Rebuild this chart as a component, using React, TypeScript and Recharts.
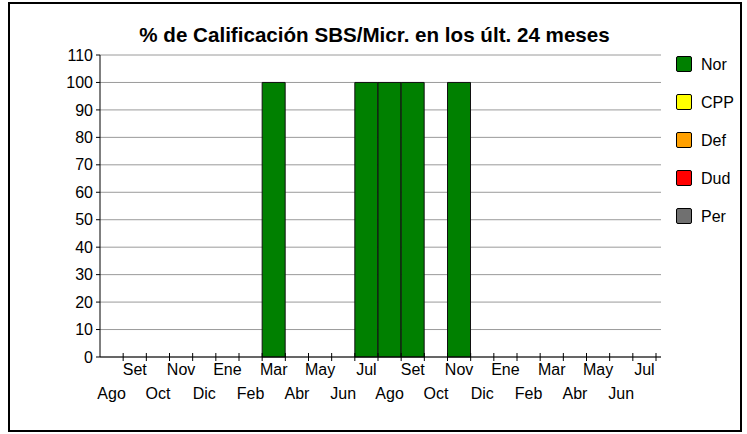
import React from 'react';
import { BarChart, Bar, XAxis, YAxis, CartesianGrid, Legend } from 'recharts';

// ---- data ----
const MONTHS = ['Ago', 'Set', 'Oct', 'Nov', 'Dic', 'Ene', 'Feb', 'Mar', 'Abr', 'May', 'Jun', 'Jul',
  'Ago', 'Set', 'Oct', 'Nov', 'Dic', 'Ene', 'Feb', 'Mar', 'Abr', 'May', 'Jun', 'Jul'];
const NOR = [0, 0, 0, 0, 0, 0, 0, 100, 0, 0, 0, 100, 100, 100, 0, 100, 0, 0, 0, 0, 0, 0, 0, 0];
const CPP = [0, 0, 0, 0, 0, 0, 0, 0, 0, 0, 0, 0, 0, 0, 0, 0, 0, 0, 0, 0, 0, 0, 0, 0];
const DEF = [0, 0, 0, 0, 0, 0, 0, 0, 0, 0, 0, 0, 0, 0, 0, 0, 0, 0, 0, 0, 0, 0, 0, 0];
const DUD = [0, 0, 0, 0, 0, 0, 0, 0, 0, 0, 0, 0, 0, 0, 0, 0, 0, 0, 0, 0, 0, 0, 0, 0];
const PER = [0, 0, 0, 0, 0, 0, 0, 0, 0, 0, 0, 0, 0, 0, 0, 0, 0, 0, 0, 0, 0, 0, 0, 0];
const SERIES_NAMES = ['Nor', 'CPP', 'Def', 'Dud', 'Per'];
const SERIES_COLORS = ['#008000', '#FFFF00', '#FFA000', '#FF0000', '#707070'];
const Y_TICKS = [0, 10, 20, 30, 40, 50, 60, 70, 80, 90, 100, 110];
const TITLE = '% de Calificación SBS/Micr. en los últ. 24 meses';

const SERIES_VALUES = [NOR, CPP, DEF, DUD, PER];
const data = MONTHS.map((m, i) => {
  const row: any = { month: m };
  SERIES_NAMES.forEach((n, s) => { row[n] = SERIES_VALUES[s][i]; });
  return row;
});

// ---- layout ----
const W = 747;
const H = 434;
const MARGIN = { top: 55, right: 86, left: 60, bottom: 27 };
const YAXIS_W = 40;
const XAXIS_H = 50;
const X_PAD_RIGHT = 5;
const AXIS_Y = H - MARGIN.bottom - XAXIS_H;
const PLOT_LEFT = MARGIN.left + YAXIS_W;
const PLOT_RIGHT = W - MARGIN.right;
const BAND = (PLOT_RIGHT - X_PAD_RIGHT - PLOT_LEFT) / MONTHS.length;
const FONT = "'Liberation Sans', Arial, sans-serif";

const MonthTick = (props: any) => {
  const { x, payload } = props;
  const idx = typeof payload?.index === 'number' ? payload.index : props.index;
  const half = typeof payload?.offset === 'number' && payload.offset > 0 ? payload.offset : BAND / 2;
  const upper = idx % 2 === 1;
  return (
    <g>
      <line x1={x + half} x2={x + half} y1={AXIS_Y - 4} y2={AXIS_Y + 4} stroke="#000" strokeWidth={1} />
      <text x={x} y={upper ? AXIS_Y + 18 : AXIS_Y + 42} textAnchor="middle" fontSize={16}
        fontFamily={FONT} fill="#000">{payload.value}</text>
    </g>
  );
};

const LegendContent = () => (
  <div style={{ position: 'relative', width: 70, height: 170, fontFamily: FONT }}>
    {SERIES_NAMES.map((n, i) => (
      <div key={n} style={{ position: 'absolute', left: 0, top: Math.round(i * 38.1), height: 16, display: 'flex', alignItems: 'center' }}>
        <div style={{ width: 14, height: 14, background: SERIES_COLORS[i], border: '1px solid #000', borderRadius: 2 }} />
        <span style={{ marginLeft: 9, fontSize: 16, lineHeight: '16px', color: '#000', position: 'relative', top: 1 }}>{n}</span>
      </div>
    ))}
  </div>
);

export default function App() {
  return (
    <div style={{ position: 'absolute', left: 0, top: 0, width: W, height: H, background: '#fff' }}>
      <BarChart width={W} height={H} data={data} margin={MARGIN} barCategoryGap={0} barGap={0}>
        <CartesianGrid vertical={false} stroke="#9a9a9a" strokeWidth={1} />
        <XAxis dataKey="month" interval={0} height={XAXIS_H} padding={{ left: 0, right: X_PAD_RIGHT }}
          tickLine={false} axisLine={{ stroke: '#000', strokeWidth: 1 }} tick={<MonthTick />} />
        <YAxis width={YAXIS_W} domain={[0, 110]} ticks={Y_TICKS} interval={0} tickSize={4} tickMargin={3}
          axisLine={{ stroke: '#000' }} tickLine={{ stroke: '#000' }}
          tick={{ fontSize: 16, fill: '#000', fontFamily: FONT }} />
        <Legend layout="vertical" align="center" verticalAlign="middle" content={<LegendContent />}
          wrapperStyle={{ left: 676, top: 56, width: 70, height: 170 }} />
        {SERIES_NAMES.map((n, i) => (
          <Bar key={n} dataKey={n} name={n} stackId="a" fill={SERIES_COLORS[i]} stroke="#111" strokeWidth={1}
            isAnimationActive={false} />
        ))}
      </BarChart>
      <div style={{ position: 'absolute', left: 1, top: 25, width: W, textAlign: 'center', fontFamily: FONT,
        fontWeight: 'bold', fontSize: 20.6, lineHeight: '20px', color: '#000', pointerEvents: 'none' }}>{TITLE}</div>
      <div style={{ position: 'absolute', left: 8, top: 2, width: 734, height: 430, border: '2px solid #000',
        boxSizing: 'border-box', pointerEvents: 'none' }} />
    </div>
  );
}
